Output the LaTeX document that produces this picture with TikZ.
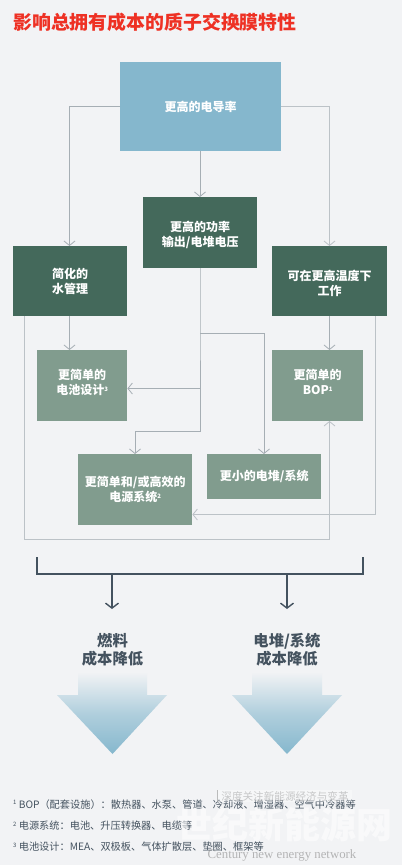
\documentclass[tikz,border=0pt]{standalone}
\usepackage{fontspec}
\setmainfont{Noto Sans CJK SC}
\usetikzlibrary{arrows.meta,positioning}
\definecolor{bg}{HTML}{F2F3F5}
\definecolor{blueb}{HTML}{85B7CD}
\definecolor{darkb}{HTML}{44695B}
\definecolor{midb}{HTML}{819C8E}
\definecolor{linec}{HTML}{A6AEB4}
\definecolor{slate}{HTML}{44525F}
\definecolor{titlec}{HTML}{EE3124}
\newcommand{\fsz}[2][0]{\fontsize{#2}{\ifdim#1pt=0pt #2\else #1\fi}\selectfont}
\newcommand{\supn}[1]{\raisebox{3.5pt}{\fsz{6}#1}}
\newcommand{\lift}[1]{\rule{0pt}{#1pt}}
\newcommand{\sink}[1]{\rule[-#1pt]{0pt}{1pt}}
\tikzset{
  x=1pt,y=-1pt,
  boxn/.style={anchor=north west,inner sep=0pt,text=white,align=center,font=\fsz[15]{12}\bfseries,
    minimum width=#1},
  conn/.style={draw=linec,line width=1pt},
  arr/.style={conn,-{Straight Barb[length=4.5pt,width=11pt,line width=0.8pt]}},
  brk/.style={draw=slate,line width=1.6pt},
  brkarr/.style={brk,-{Straight Barb[length=5pt,width=13pt,line width=1.4pt]}},
  costlab/.style={text=slate,align=center,font=\fsz[18]{15.3}\bfseries,inner sep=0pt},
  fnote/.style={anchor=west,text=slate,inner sep=0pt,font=\fsz{10.2}},
  wm/.style={inner sep=0pt,text=gray,opacity=.4},
  coolarrow/.style={top color=bg,bottom color=blueb,middle color=blueb!60!bg,draw=none,shading angle=0},
}
\begin{document}
\begin{tikzpicture}
\useasboundingbox (0,0) rectangle (402,865);
\fill[bg] (0,0) rectangle (402,865);
\node[anchor=west,inner sep=0pt,text=titlec,font=\fsz{18.9}\bfseries] (title) at (13,22) {影响总拥有成本的质子交换膜特性};

% boxes
\node[fill=blueb,boxn=161pt,minimum height=89pt] (top) at (120,62) {更高的电导率};
\node[fill=darkb,boxn=114pt,minimum height=71pt] (ctr) at (143,197) {\lift{14}更高的功率\\输出/电堆电压};
\node[fill=darkb,boxn=114pt,minimum height=70pt] (lft) at (13,246) {简化的\\水管理};
\node[fill=darkb,boxn=115pt,minimum height=70pt] (rgt) at (272,246) {\lift{15}可在更高温度下\\工作};
\node[fill=midb,boxn=90pt,minimum height=71pt] (cell) at (37,350) {更简单的\\电池设计\supn{3}\sink{7}};
\node[fill=midb,boxn=91pt,minimum height=71pt] (bop) at (272,350) {更简单的\\BOP\supn{1}\sink{7}};
\node[fill=midb,boxn=114pt,minimum height=71pt] (pwr) at (78,454) {更简单和/或高效的\\电源系统\supn{2}};
\node[fill=midb,boxn=114pt,minimum height=45pt] (stk) at (207,454) {更小的电堆/系统};

% junctions
\coordinate (tr) at (top.west);
\coordinate (ct) at (200,151);
\coordinate (cb) at (200,268);
\coordinate (j1) at (200,333);
\coordinate (j2) at (264,333);
\coordinate (j3) at (200,388.5);
\coordinate (j4) at (200,431);
\coordinate (j5) at (135,431);
\coordinate (lin) at (69.5,316);
\coordinate (lout) at (24,316);
\coordinate (lc) at (24,539);
\coordinate (br) at (329.5,539);
\coordinate (rin) at (329.5,316);
\coordinate (rout) at (375,316);
\coordinate (rc) at (375,514.5);

% connectors
\draw[arr] (top.west) -| (69.5,246);
\draw[arr,draw=linec!75] (top.east) -| (329.5,246);
\draw[arr] (ct) -- (200,197);
\draw[arr] (lin) -- (69.5,350);
\draw[arr] (rin) -- (329.5,350);
\draw[conn] (cb) -- (j1) -- (j3);
\draw[arr] (j1) -- (j2) -- (264,454);
\draw[arr] (j3) -- (cell.east |- j3);
\draw[arr] (j3) -- (j4) -- (j5) -- (135,454);
\draw[arr,draw=linec!75] (lout) -- (lc) -- (br) -- (329.5,421);
\draw[arr,draw=linec!75] (rout) -- (rc) -- (pwr.east |- rc);

% bracket
\draw[brk] (37,557) -- (37,574) -- (363,574) -- (363,557);
\coordinate (ba) at (112,574);
\coordinate (bb) at (287,574);
\coordinate (ea) at (112,609);
\coordinate (eb) at (287,609);
\draw[brkarr] (ba) -- (ea);
\draw[brkarr] (bb) -- (eb);

% cost labels
\node[costlab] (fuel) at (112.5,650) {燃料\\成本降低};
\node[costlab] (stack) at (287,650) {电堆/系统\\成本降低};

% gradient arrows
\shade[coolarrow] (78,672) -- (147,672) -- (147,695) -- (167,695) -- (112.5,754) -- (57,695) -- (78,695) -- cycle;
\shade[coolarrow] (252,672) -- (322,672) -- (322,695) -- (342,695) -- (287,754) -- (232,695) -- (252,695) -- cycle;

% footnotes
\node[fnote] (f1) at (13,804.5) {\supn{1} BOP（配套设施）：散热器、水泵、管道、冷却液、增湿器、空气中冷器等};
\node[fnote] (f2) at (13,826) {\supn{2} 电源系统：电池、升压转换器、电缆等};
\node[fnote] (f3) at (13,847) {\supn{3} 电池设计：MEA、双极板、气体扩散层、垫圈、框架等};

% watermark
\fill[white,opacity=.35] (217,790) rectangle (352,802);
\draw[gray,opacity=.5,line width=.6pt] (217,790) -- (217,802);
\node[wm,font=\fsz{10.6}] (w1) at (285,796) {深度关注新能源经济与变革};
\node[wm,font=\fsz{36}\bfseries,text=white,opacity=.55] (w2) at (284,825) {世纪新能源网};
\node[wm,font=\fsz{12.8},opacity=.55] (w3) at (282,855) {\setmainfont{Liberation Serif}\selectfont Century new energy network};
\end{tikzpicture}
\end{document}
